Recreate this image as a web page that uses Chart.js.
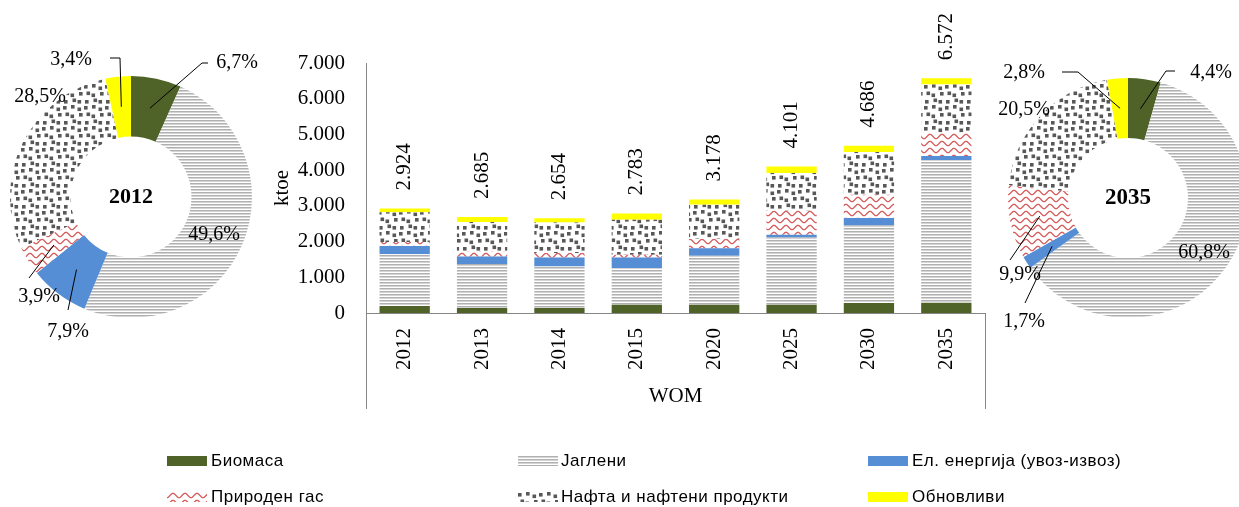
<!DOCTYPE html>
<html><head><meta charset="utf-8">
<script src="https://cdn.jsdelivr.net/npm/chart.js@4.4.1/dist/chart.umd.min.js"></script>
<style>
html,body{margin:0;padding:0;width:1239px;height:507px;overflow:hidden;background:#fff;}
.cv{position:absolute;left:0;top:0;}
.li{position:absolute;font-family:"Liberation Sans";font-size:17px;letter-spacing:0.5px;color:#000;white-space:nowrap;line-height:18px;}
.sw{position:absolute;}
</style></head><body>
<canvas id="pieL" class="cv" width="1239" height="507"></canvas>
<canvas id="pieR" class="cv" width="1270" height="507"></canvas>
<canvas id="bar" class="cv" width="1239" height="507"></canvas>
<div id="legend"></div>
<script>
// ---------- data ----------
const years = ['2012','2013','2014','2015','2020','2025','2030','2035'];
const seriesNames = ['Биомаса','Јаглени','Ел. енергија (увоз-извоз)','Природен гас','Нафта и нафтени продукти','Обновливи'];
const biomasa    = [196, 140, 140, 232, 232, 232, 280, 289];
const jagleni    = [1450,1232,1165,1028,1373,1885,2173,3996];
const elEnergija = [231, 213, 252, 297, 205, 76, 207, 112];
const priroden   = [114, 150, 123, 76, 262, 680, 653, 651];
const nafta      = [833, 810, 857, 980, 961, 1047,1195,1347];
const obnovlivi  = [100, 140, 117, 170, 145, 181, 178, 177];
const totals     = [2924,2685,2654,2783,3178,4101,4686,6572];
const yTickValues = [0,1000,2000,3000,4000,5000,6000,7000];
const pie2012 = [6.7, 49.6, 7.9, 3.9, 28.5, 3.4];
const pie2035 = [4.4, 60.8, 1.7, 9.9, 20.5, 2.8];
const xTitle = 'WOM';
const yTitle = 'ktoe';

// ---------- helpers ----------
function fmtThousands(v){ const s = String(Math.round(v)); return s.replace(/\B(?=(\d{3})+(?!\d))/g,'.'); }
function fmtPct(v){ return v.toFixed(1).replace('.',',') + '%'; }
function mk(w,h){ const c=document.createElement('canvas'); c.width=w; c.height=h; return c; }
function coalTile(){ const c=mk(4,3), g=c.getContext('2d'); g.fillStyle='#fff'; g.fillRect(0,0,4,3); g.fillStyle='#b0b0b0'; g.fillRect(0,0,4,1); g.fillStyle='#d4d4d4'; g.fillRect(0,1,4,1); return c; }
function gasTile(){ const c=mk(12,7), g=c.getContext('2d'); g.fillStyle='#fff'; g.fillRect(0,0,12,7);
  g.strokeStyle='#d85a5a'; g.lineWidth=1.3; g.beginPath();
  for(let x=-1;x<=13;x+=0.5){ const y=3.5+2.2*Math.cos(2*Math.PI*x/12); if(x===-1) g.moveTo(x,y); else g.lineTo(x,y); }
  g.stroke(); return c; }
function oilTile(){ const c=mk(21,21), g=c.getContext('2d'); g.fillStyle='#fff'; g.fillRect(0,0,21,21);
  g.fillStyle='#585858';
  [[0,1],[8,0],[14.5,2.5],[2.5,7.5],[7.5,9.5],[16,8],[1,16],[9.5,14.5],[14.5,16]].forEach(p=>g.fillRect(p[0],p[1],3.6,3.6));
  return c; }
const tmpCtx = mk(1,1).getContext('2d');
const coalPat = tmpCtx.createPattern(coalTile(),'repeat');
const gasPat  = tmpCtx.createPattern(gasTile(),'repeat');
const oilPat  = tmpCtx.createPattern(oilTile(),'repeat');
const colors = ['#4f6228', coalPat, '#558ed5', gasPat, oilPat, '#ffff00'];

const SERIF = 'Liberation Serif';

// ---------- bar chart ----------
const barExtras = {
  id:'barExtras',
  afterDraw(chart){
    const ctx=chart.ctx, ca=chart.chartArea, xs=chart.scales.x, ys=chart.scales.y;
    const al = p => Math.round(p-0.5)+0.5;
    ctx.save();
    ctx.strokeStyle='#868686'; ctx.lineWidth=1;
    ctx.beginPath();
    ctx.moveTo(al(ca.left), ca.bottom); ctx.lineTo(al(ca.left), xs.bottom);
    ctx.moveTo(al(ca.right), ca.bottom); ctx.lineTo(al(ca.right), xs.bottom);
    ctx.stroke();
    // totals
    ctx.fillStyle='#000'; ctx.font='21px "'+SERIF+'"'; ctx.textAlign='left'; ctx.textBaseline='middle';
    totals.forEach((t,i)=>{
      const x = xs.getPixelForValue(i), y = ys.getPixelForValue(t);
      ctx.save(); ctx.translate(x, y-18); ctx.rotate(-Math.PI/2); ctx.fillText(fmtThousands(t),0,0); ctx.restore();
    });
    ctx.restore();
  }
};
const seriesData = [biomasa, jagleni, elEnergija, priroden, nafta, obnovlivi];
new Chart(document.getElementById('bar').getContext('2d'), {
  type:'bar',
  data:{ labels:years, datasets: seriesNames.map((n,i)=>({label:n, data:seriesData[i], backgroundColor:colors[i], borderWidth:0, categoryPercentage:1, barPercentage:0.65})) },
  options:{
    responsive:false, animation:false, events:[],
    layout:{padding:{left:270,right:254,top:63,bottom:98}},
    plugins:{legend:{display:false}, tooltip:{enabled:false}},
    scales:{
      x:{ stacked:true, grid:{display:false, drawTicks:false}, border:{display:true,color:'#868686',width:1},
          ticks:{minRotation:90,maxRotation:90,autoSkip:false,padding:15,color:'#000',font:{family:SERIF,size:21}},
          title:{display:true,text:xTitle,color:'#000',font:{family:SERIF,size:21},padding:0},
          afterFit(s){ s.height=96; } },
      y:{ stacked:true, min:0, max:7000, grid:{display:false, drawTicks:false}, border:{display:true,color:'#868686',width:1},
          afterBuildTicks(s){ s.ticks = yTickValues.map(v=>({value:v})); },
          ticks:{padding:21,color:'#000',font:{family:SERIF,size:21}, callback:v=>fmtThousands(v)},
          title:{display:true,text:yTitle,color:'#000',font:{family:SERIF,size:21},padding:0},
          afterFit(s){ s.width=96; } }
    }
  },
  plugins:[barExtras]
});

// ---------- doughnuts ----------
const donutLabels = {
  id:'donutLabels',
  afterDatasetsDraw(chart, args, opts){
    const ctx=chart.ctx, meta=chart.getDatasetMeta(0), vals=chart.data.datasets[0].data;
    ctx.save();
    ctx.strokeStyle='#000'; ctx.lineWidth=1;
    opts.items.forEach((it,i)=>{
      if(it.leader){
        const p = meta.data[i].tooltipPosition(true);
        ctx.beginPath(); ctx.moveTo(p.x,p.y); it.leader.forEach(q=>ctx.lineTo(q[0],q[1])); ctx.stroke();
      }
    });
    ctx.fillStyle='#000'; ctx.font='20px "'+SERIF+'"'; ctx.textAlign='center'; ctx.textBaseline='middle';
    opts.items.forEach((it,i)=>{ ctx.fillText(fmtPct(vals[i]), it.x, it.y); });
    const c = meta.data[0];
    ctx.font='bold '+opts.centerSize+'px "'+SERIF+'"';
    ctx.fillText(opts.center, c.x, c.y);
    ctx.restore();
  }
};
function donut(id, values, padding, items, center, centerSize){
  new Chart(document.getElementById(id).getContext('2d'), {
    type:'doughnut',
    data:{ labels:seriesNames, datasets:[{ data:values, backgroundColor:colors, borderWidth:0, hoverOffset:0 }] },
    options:{ responsive:false, animation:false, events:[], cutout:'50%',
      layout:{padding},
      plugins:{ legend:{display:false}, tooltip:{enabled:false}, donutLabels:{items, center, centerSize} } },
    plugins:[donutLabels]
  });
}
donut('pieL', pie2012, {left:10,right:1239-252,top:76,bottom:507-318}, [
  {x:237, y:63, leader:[[202,63],[208,63]]},
  {x:214, y:235},
  {x:68,  y:332, leader:[[68,310]]},
  {x:39,  y:297, leader:[[29,278]]},
  {x:40,  y:97},
  {x:71,  y:60, leader:[[120,58],[110,58]]}
], '2012', 22);
donut('pieR', pie2035, {left:1008,right:1270-1248,top:78,bottom:507-318}, [
  {x:1211, y:73, leader:[[1166,71],[1175,71]]},
  {x:1204, y:253},
  {x:1024, y:322, leader:[[1025,303]]},
  {x:1020, y:275, leader:[[1010,260]]},
  {x:1024, y:110},
  {x:1024, y:73, leader:[[1078,72],[1062,72]]}
], '2035', 23);

// ---------- legend ----------
const legendPos = [[167,211,456],[518,561,456],[868,912,456],[167,211,492],[518,561,492],[868,912,492]];
const lg = document.getElementById('legend');
seriesNames.forEach((n,i)=>{
  const [sx,tx,sy] = legendPos[i];
  const c = mk(40,10); c.className='sw'; c.style.left=sx+'px'; c.style.top=sy+'px';
  const g = c.getContext('2d'); g.fillStyle=colors[i]; g.fillRect(0,0,40,10);
  lg.appendChild(c);
  const d = document.createElement('div'); d.className='li'; d.textContent=n; d.style.left=tx+'px'; d.style.top=(sy-4)+'px';
  lg.appendChild(d);
});
</script>
</body></html>
